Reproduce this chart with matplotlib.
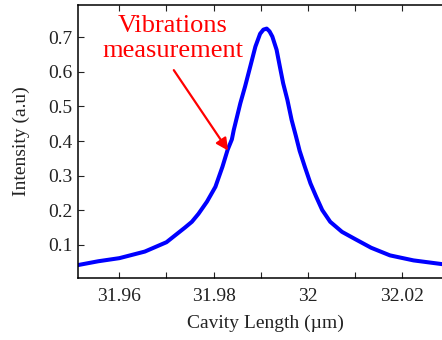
import matplotlib
matplotlib.use("Agg")
import matplotlib.pyplot as plt

# Curve values
cavity_length = [31.9512, 31.9555, 31.9600, 31.9654, 31.9700, 31.9739, 31.9754,
                 31.9768, 31.9786, 31.9804, 31.9819, 31.9830, 31.9839, 31.9843,
                 31.9857, 31.9867, 31.9878, 31.9889, 31.9899, 31.9906, 31.9913,
                 31.9919, 31.9925, 31.9934, 31.9941, 31.9948, 31.9957, 31.9966,
                 31.9975, 31.9983, 31.9994, 32.0006, 32.0018, 32.0031, 32.0048,
                 32.0073, 32.0101, 32.0135, 32.0175, 32.0225, 32.0290]
intensity = [0.042, 0.053, 0.062, 0.081, 0.108, 0.150, 0.167,
             0.190, 0.225, 0.268, 0.326, 0.375, 0.405, 0.432,
             0.5095, 0.5575, 0.615, 0.673, 0.710, 0.722, 0.725,
             0.717, 0.702, 0.664, 0.615, 0.567, 0.519, 0.461,
             0.415, 0.372, 0.326, 0.278, 0.240, 0.201, 0.167,
             0.138, 0.117, 0.092, 0.070, 0.0555, 0.044]

x_ticks = [31.96, 31.97, 31.98, 31.99, 32.00, 32.01, 32.02]
x_tick_labels = ["31.96", "", "31.98", "", "32", "", "32.02"]
y_ticks = [0.1, 0.2, 0.3, 0.4, 0.5, 0.6, 0.7]
y_tick_labels = ["0.1", "0.2", "0.3", "0.4", "0.5", "0.6", "0.7"]

annotation_text = "Vibrations\nmeasurement"
arrow_tip = (31.9831, 0.3725)
arrow_tail = (31.97156, 0.605)
text_pos = (31.9713, 0.697)

plt.rcParams['font.family'] = ['Liberation Serif', 'DejaVu Serif']

W, H = 442, 340
fig = plt.figure(figsize=(W / 100, H / 100), dpi=100)
left_px, right_px, top_px, bottom_px = 78, 453.5, 4.7, 278.3
ax = fig.add_axes([left_px / W, 1 - bottom_px / H,
                   (right_px - left_px) / W, (bottom_px - top_px) / H])

ax.plot(cavity_length, intensity, color=(0, 0, 1), lw=2.9,
        solid_capstyle='round', solid_joinstyle='round')

ax.set_xlim(31.9512, 32.031)
ax.set_ylim(0.0038, 0.794)
ax.set_xticks(x_ticks)
ax.set_xticklabels(x_tick_labels)
ax.set_yticks(y_ticks)
ax.set_yticklabels(y_tick_labels)
ax.tick_params(direction='in', length=4, width=0.8, labelsize=14,
               top=True, right=True, colors='#222222')
ax.tick_params(axis='x', pad=7)
ax.tick_params(axis='y', pad=4)
for s in ax.spines.values():
    s.set_linewidth(1.1)

ax.set_xlabel("Cavity Length (µm)", fontsize=14, color='#222222', labelpad=7)
ax.set_ylabel("Intensity (a.u)", fontsize=14, color='#222222', labelpad=13)

ax.text(text_pos[0], text_pos[1], annotation_text, color='red', fontsize=19,
        ha='center', va='center', linespacing=1.2)
ax.annotate("", xy=arrow_tip, xytext=arrow_tail,
            arrowprops=dict(arrowstyle='-|>', color='red', lw=1.6,
                            mutation_scale=18, shrinkA=0, shrinkB=0))

fig.savefig("out.png", dpi=100)
